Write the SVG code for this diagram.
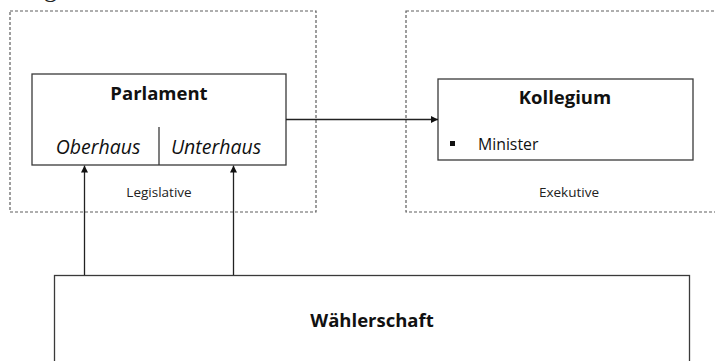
<svg xmlns="http://www.w3.org/2000/svg" width="715" height="361" viewBox="0 0 715 361">
<style>
.box{fill:#fff;stroke:#3a3a3a;stroke-width:1.3}
.grp{fill:none;stroke:#5e5e5e;stroke-width:1.2;stroke-dasharray:3,2}
.conn{fill:none;stroke:#222;stroke-width:1.3}
.t{font-family:"Open Sans","Liberation Sans",sans-serif;fill:#111;text-anchor:middle}
.b{font-weight:bold;font-size:18.5px}
.i{font-style:italic;font-size:19.5px}
.s{font-size:13.5px;fill:#222}
</style>
<defs>
<marker id="ah" viewBox="0 0 10 10" refX="10" refY="5" markerWidth="7" markerHeight="7" orient="auto" markerUnits="userSpaceOnUse">
<path d="M0,0 L10,5 L0,10 z" fill="#111"/>
</marker>
</defs>
<text x="44" y="-3" font-family="'Liberation Serif',serif" font-size="26" fill="#222">g</text>
<g id="legislative-group">
<rect class="grp" x="10" y="11" width="306" height="201"/>
<text class="t s" x="159" y="197">Legislative</text>
</g>
<g id="exekutive-group">
<rect class="grp" x="406" y="11" width="320" height="201"/>
<text class="t s" x="569" y="197">Exekutive</text>
</g>
<g id="parlament">
<rect class="box" x="32" y="74" width="254" height="91"/>
<line x1="159" y1="127" x2="159" y2="165" stroke="#3a3a3a" stroke-width="1.3"/>
<text class="t b" x="159" y="100">Parlament</text>
<text class="t i" x="98" y="154">Oberhaus</text>
<text class="t i" x="216" y="154">Unterhaus</text>
</g>
<g id="kollegium">
<rect class="box" x="438" y="79" width="255" height="81"/>
<text class="t b" x="565" y="104">Kollegium</text>
<rect x="450" y="141" width="5" height="5" fill="#111"/>
<text class="t" x="478" y="150" style="text-anchor:start;font-size:15.8px">Minister</text>
</g>
<g id="waehlerschaft">
<rect class="box" x="54.5" y="275.5" width="635" height="100"/>
<text class="t b" x="372" y="327">Wählerschaft</text>
</g>
<g id="connectors">
<line class="conn" x1="286" y1="119.5" x2="438" y2="119.5" marker-end="url(#ah)"/>
<line class="conn" x1="84.5" y1="275" x2="84.5" y2="165.5" marker-end="url(#ah)"/>
<line class="conn" x1="233.5" y1="275" x2="233.5" y2="165.5" marker-end="url(#ah)"/>
</g>
</svg>
